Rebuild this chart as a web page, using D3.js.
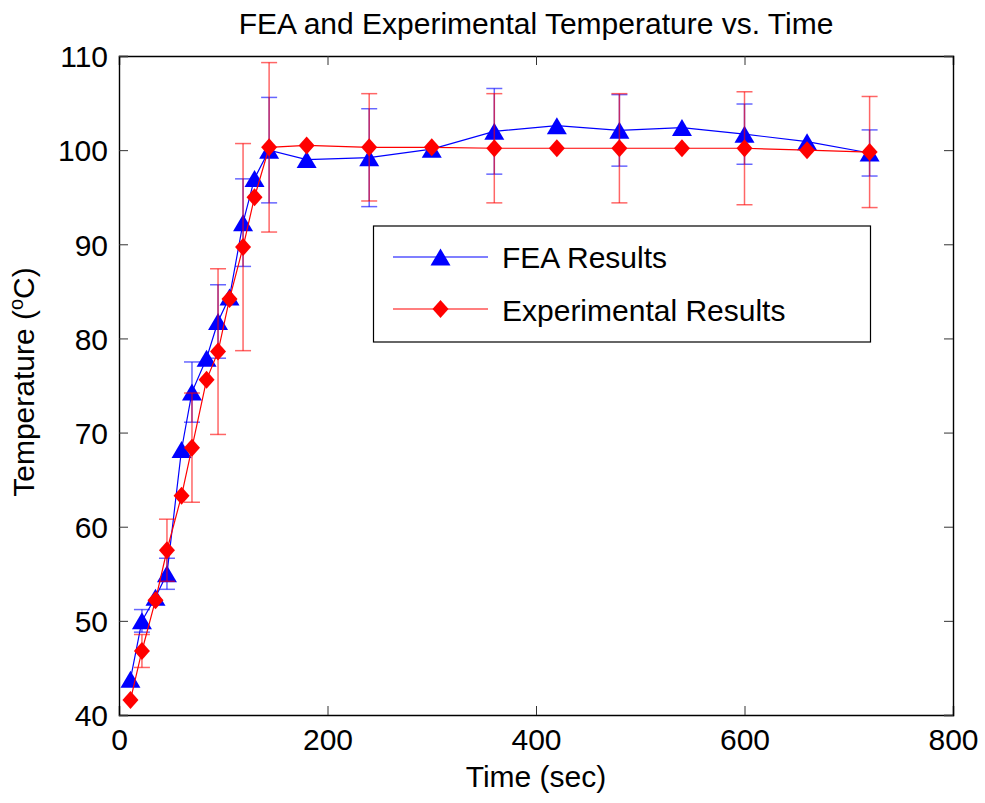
<!DOCTYPE html>
<html>
<head>
<meta charset="utf-8">
<script src="https://cdn.jsdelivr.net/npm/d3@7"></script>
<style>
  html, body { margin: 0; padding: 0; background: #fff; }
  svg text { font-family: "Liberation Sans", Arial, Helvetica, sans-serif; fill: #000; }
</style>
</head>
<body>
<svg id="chart" width="985" height="803"></svg>
<script>
// ---- data ----
const timeSec  = [11, 22, 35, 46, 60, 70, 84, 95, 106, 119, 130, 144, 180, 240, 300, 360, 420, 480, 540, 600, 660, 720];
const feaTemp  = [43.8, 50.0, 52.5, 55.0, 68.2, 74.3, 77.9, 81.8, 84.4, 92.3, 97.0, 100.0, 99.0, 99.2, 100.1, 102.0, 102.6, 102.1, 102.4, 101.7, 100.9, 99.7];
const feaErr   = [null, 1.2, null, 1.65, null, 3.2, null, 3.9, null, 4.65, null, 5.6, null, 5.2, null, 4.55, null, 3.8, null, 3.2, null, 2.45];
const expTemp  = [41.6, 46.8, 52.2, 57.5, 63.3, 68.4, 75.6, 78.6, 84.2, 89.7, 95.0, 100.3, 100.5, 100.3, 100.3, 100.2, 100.2, 100.2, 100.2, 100.2, 100.0, 99.8];
const expErr   = [null, 1.75, null, 3.3, null, 5.8, null, 8.8, null, 11.0, null, 9.0, null, 5.7, null, 5.8, null, 5.8, null, 6.0, null, 5.9];
const xTicks   = [0, 200, 400, 600, 800];
const yTicks   = [40, 50, 60, 70, 80, 90, 100, 110];
const seriesNames = ["FEA Results", "Experimental Results"];
const titleText = "FEA and Experimental Temperature vs. Time";
const xLabel = "Time (sec)";

// ---- layout ----
const svg = d3.select("#chart");
const L = 119, R = 953, T = 56, B = 715;
const x = d3.scaleLinear().domain([0, 800]).range([L, R]);
const y = d3.scaleLinear().domain([40, 110]).range([B, T]);

const FS = 30;

// plot background
svg.append("rect").attr("x", L).attr("y", T).attr("width", R - L).attr("height", B - T)
  .attr("fill", "#fff");

// axes (inward ticks) on all four sides
const tickLen = 9;
const axB = svg.append("g").attr("transform", `translate(0,${B})`)
  .call(d3.axisBottom(x).tickValues(xTicks).tickSize(-tickLen).tickPadding(14).tickFormat(d3.format("d")));
const axT = svg.append("g").attr("transform", `translate(0,${T})`)
  .call(d3.axisTop(x).tickValues(xTicks).tickSize(-tickLen).tickFormat(""));
const axL = svg.append("g").attr("transform", `translate(${L},0)`)
  .call(d3.axisLeft(y).tickValues(yTicks).tickSize(-tickLen).tickPadding(11).tickFormat(d3.format("d")));
const axR = svg.append("g").attr("transform", `translate(${R},0)`)
  .call(d3.axisRight(y).tickValues(yTicks).tickSize(-tickLen).tickFormat(""));
[axB, axT, axL, axR].forEach(g => {
  g.select(".domain").attr("stroke", "#000").attr("stroke-width", 1.4);
  g.selectAll(".tick line").attr("stroke", "#333").attr("stroke-width", 1);
  g.selectAll(".tick text").attr("font-size", FS).attr("fill", "#000")
    .attr("font-family", "'Liberation Sans', Arial, sans-serif");
});
axB.selectAll(".tick text").attr("dy", "0.71em").attr("y", 14);
axL.selectAll(".tick text").attr("x", -11).attr("dy", "0.36em");

// clip nothing – markers can overflow like MATLAB
const blue = "#0000ff", red = "#ff0000";

function drawSeries(vals, color, shape) {
  const pts = timeSec.map((t, i) => [t, vals[i]]);
  svg.append("path").datum(pts)
    .attr("fill", "none").attr("stroke", color).attr("stroke-width", 1.2)
    .attr("d", d3.line().x(d => x(d[0])).y(d => y(d[1])));
}
function drawMarkers(vals, color, shape) {
  const g = svg.append("g");
  timeSec.forEach((t, i) => {
    const cx = x(t), cy = y(vals[i]);
    if (shape === "tri") {
      g.append("path").attr("d", `M${cx},${cy - 8.5}L${cx + 10},${cy + 8.5}L${cx - 10},${cy + 8.5}Z`)
        .attr("fill", color);
    } else {
      g.append("path").attr("d", `M${cx},${cy - 9}L${cx + 8},${cy}L${cx},${cy + 9}L${cx - 8},${cy}Z`)
        .attr("fill", color);
    }
  });
}
function drawErr(vals, errs, color) {
  const g = svg.append("g").attr("stroke", color).attr("stroke-opacity", 0.6).attr("stroke-width", 1.5);
  timeSec.forEach((t, i) => {
    const e = errs[i];
    if (e == null) return;
    const cx = x(t), y1 = y(vals[i] + e), y0 = y(vals[i] - e);
    g.append("line").attr("x1", cx).attr("x2", cx).attr("y1", y1).attr("y2", y0);
    g.append("line").attr("x1", cx - 8).attr("x2", cx + 8).attr("y1", y1).attr("y2", y1);
    g.append("line").attr("x1", cx - 8).attr("x2", cx + 8).attr("y1", y0).attr("y2", y0);
  });
}

drawSeries(feaTemp, blue);
drawMarkers(feaTemp, blue, "tri");
drawErr(feaTemp, feaErr, blue);
drawSeries(expTemp, red);
drawMarkers(expTemp, red, "dia");
drawErr(expTemp, expErr, red);

// title
svg.append("text").attr("x", (L + R) / 2).attr("y", 34).attr("text-anchor", "middle")
  .attr("font-size", FS).text(titleText);

// x label
svg.append("text").attr("x", (L + R) / 2).attr("y", 787).attr("text-anchor", "middle")
  .attr("font-size", FS).text(xLabel);

// y label with superscript o
const yl = svg.append("text").attr("transform", "translate(34,382) rotate(-90)")
  .attr("text-anchor", "middle").attr("font-size", FS);
yl.append("tspan").text("Temperature (");
yl.append("tspan").attr("font-size", 20).attr("dy", -11).text("o");
yl.append("tspan").attr("dy", 11).text("C)");

// legend
const lg = svg.append("g");
lg.append("rect").attr("x", 373.5).attr("y", 226).attr("width", 497).attr("height", 116)
  .attr("fill", "#fff").attr("stroke", "#000").attr("stroke-width", 1.2);
const legendRows = [
  {name: seriesNames[0], color: blue, shape: "tri", ly: 257, ty: 268},
  {name: seriesNames[1], color: red, shape: "dia", ly: 309, ty: 321}
];
legendRows.forEach(r => {
  lg.append("line").attr("x1", 393).attr("x2", 488).attr("y1", r.ly).attr("y2", r.ly)
    .attr("stroke", r.color).attr("stroke-width", 1.2);
  const cx = 440.5, cy = r.ly;
  if (r.shape === "tri") {
    lg.append("path").attr("d", `M${cx},${cy - 8.5}L${cx + 10},${cy + 8.5}L${cx - 10},${cy + 8.5}Z`).attr("fill", r.color);
  } else {
    lg.append("path").attr("d", `M${cx},${cy - 9}L${cx + 8},${cy}L${cx},${cy + 9}L${cx - 8},${cy}Z`).attr("fill", r.color);
  }
  lg.append("text").attr("x", 502).attr("y", r.ty).attr("font-size", FS).text(r.name);
});
</script>
</body>
</html>
